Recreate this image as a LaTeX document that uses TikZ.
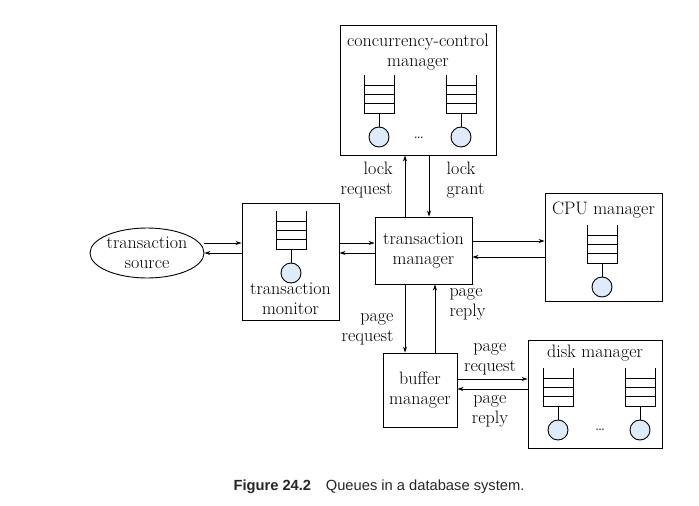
\documentclass[tikz,border=0pt]{standalone}
\usepackage{fontspec}
\setsansfont{Liberation Sans}
\usetikzlibrary{arrows.meta,shapes.geometric}

\definecolor{qfill}{RGB}{221,236,248}

\begin{document}
\begin{tikzpicture}[x=1pt,y=-1pt,
    every node/.style={font=\fontsize{18}{20}\selectfont,align=center},
    mgr/.style={draw,line width=.9pt,inner sep=0pt},
    arr/.style={line width=.9pt,-{Stealth[length=6pt,width=4pt]}}]
  \useasboundingbox (0,0) rectangle (699,506);

  % managers
  \node[mgr,minimum width=156pt,minimum height=130pt] (cc) at (418,90) {};
  \node (cctext) at (418,52) {concurrency-control\\manager};
  \node[mgr,minimum width=97pt,minimum height=67pt] (tm) at (423.5,250.5) {transaction\\manager};
  \node[mgr,minimum width=117pt,minimum height=108pt] (cpu) at (603.5,247) {};
  \node (cputext) at (603.5,210) {CPU manager};
  \node[mgr,minimum width=97pt,minimum height=117pt] (mon) at (290.5,261.5) {};
  \node (montext) at (290.5,299) {transaction\\monitor};
  \node[mgr,ellipse,minimum width=114pt,minimum height=50pt] (src) at (147,253) {transaction\\source};
  \node[mgr,minimum width=74pt,minimum height=74pt] (buf) at (420,390) {buffer\\manager};
  \node[mgr,minimum width=134pt,minimum height=108pt] (disk) at (595,394) {};
  \node (disktext) at (595,353) {disk manager};

  % queues
  \foreach \qx/\qy in {379/75, 461/75, 291/211, 602/225, 558/368, 640/368} {
      \draw[line width=.9pt] ({\qx-15},\qy) -- ({\qx-15},{\qy+38}) -- ({\qx+15},{\qy+38}) -- ({\qx+15},\qy);
      \foreach \s in {10, 19.3, 28.6}
          \draw[line width=.9pt] ({\qx-15},{\qy+\s}) -- ({\qx+15},{\qy+\s});
      \draw[line width=.9pt] (\qx,{\qy+38}) -- (\qx,{\qy+52});
      \draw[line width=.9pt,fill=qfill] (\qx,{\qy+62}) circle (10pt);
  }
  \node (ccdots) at (419,138) {\dots};
  \node (diskdots) at (600,430) {\dots};

  % connectors
  \draw[arr] ([xshift=-18.5pt]tm.north) -- ([xshift=-18.5pt]tm.north |- cc.south);
  \draw[arr] ([xshift=5.5pt]tm.north |- cc.south) -- ([xshift=5.5pt]tm.north);
  \draw[arr] ([yshift=9.5pt]tm.east) -- ([yshift=9.5pt]tm.east -| cpu.west);
  \draw[arr] ([yshift=-6.5pt]tm.east -| cpu.west) -- ([yshift=-6.5pt]tm.east);
  \draw[arr] ([yshift=10pt]src.east) -- ([yshift=10pt]src.east -| mon.west);
  \draw[arr] (src.east -| mon.west) -- (src.east);
  \draw[arr] ([yshift=10pt]src.east -| mon.east) -- ([yshift=10pt]src.east -| tm.west);
  \draw[arr] (src.east -| tm.west) -- (src.east -| mon.east);
  \draw[arr] ([xshift=-15pt]buf.north |- tm.south) -- ([xshift=-15pt]buf.north);
  \draw[arr] ([xshift=15pt]buf.north) -- ([xshift=15pt]buf.north |- tm.south);
  \draw[arr] ([yshift=11pt]buf.east) -- ([yshift=11pt]buf.east -| disk.west);
  \draw[arr] ([yshift=1pt]buf.east -| disk.west) -- ([yshift=1pt]buf.east);

  % connector labels
  \node[anchor=east,align=right] (lockreq) at (396,180) {lock\\request};
  \node[anchor=west,align=left] (lockgr) at (443,180) {lock\\grant};
  \node[anchor=east,align=right] (pagereq) at (397,329) {page\\request};
  \node[anchor=west,align=left] (pagerep) at (446,304) {page\\reply};
  \node (diskreq) at (490,359) {page\\request};
  \node (diskrep) at (490,411) {page\\reply};

  \node[font=\sffamily\fontsize{14.7}{17}\selectfont,text=black!85] (caption) at (379,487)
      {\textbf{Figure 24.2}\quad Queues in a database system.};
\end{tikzpicture}
\end{document}
